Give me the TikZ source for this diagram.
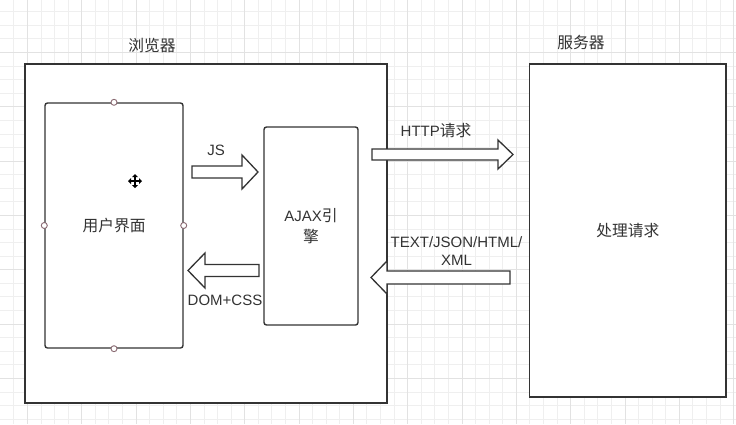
\documentclass[tikz,border=0pt]{standalone}
\usepackage{fontspec}
\setmainfont{Liberation Sans}
\newfontfamily\cjk{Noto Sans CJK SC}[Scale=1.05]
\definecolor{ink}{HTML}{333333}
\definecolor{gridminor}{HTML}{EFEFEF}
\definecolor{gridmajor}{HTML}{E2E2E2}
\definecolor{handle}{HTML}{8A6A72}
\tikzset{
  box/.style={draw=ink, line width=1.4pt, fill=white, inner sep=0pt, text=ink, align=center},
  rbox/.style={box, rounded corners=2.5pt},
  barrow/.style={draw=ink, line width=1.3pt, fill=white, line join=miter},
  lbl/.style={text=ink, inner sep=0pt, align=center},
  handlept/.style={draw=handle, fill=white, line width=0.9pt}
}
% block arrow: tip x, tail x, centre y, half shaft, half head, head base x
\newcommand\blockarr[6]{\draw[barrow] (#2,#3-#4) -- (#6,#3-#4) -- (#6,#3-#5) -- (#1,#3) -- (#6,#3+#5) -- (#6,#3+#4) -- (#2,#3+#4) -- cycle;}
\begin{document}
\begin{tikzpicture}[x=1pt,y=-1pt,font=\fontsize{15}{18}\selectfont]
\useasboundingbox (0,0) rectangle (736,424);
\fill[white] (0,0) rectangle (736,424);
% grid
\foreach \i in {0,...,53} \draw[gridminor, line width=0.8pt] (13.8+\i*13.58,0) -- (13.8+\i*13.58,424);
\foreach \i in {0,...,30} \draw[gridminor, line width=0.8pt] (0,11.7+\i*13.58) -- (736,11.7+\i*13.58);
\foreach \i in {0,...,13} \draw[gridmajor, line width=0.8pt] (27.4+\i*54.32,0) -- (27.4+\i*54.32,424);
\foreach \i in {0,...,7} \draw[gridmajor, line width=0.8pt] (0,-1.9+\i*54.32) -- (736,-1.9+\i*54.32);

% boxes
\node[box, minimum width=362pt, minimum height=339pt] (browser) at (206,233.5) {};
\node[box, minimum width=196.5pt, minimum height=333pt] (server) at (627.75,230.5) {\cjk 处理请求};
\node[rbox, minimum width=138pt, minimum height=245pt] (ui) at (114,225.5) {\cjk 用户界面};
\node[rbox, minimum width=94pt, minimum height=198pt, font=\fontsize{15}{21}\selectfont] (ajax) at (311,226) {AJAX{\cjk 引}\\{\cjk 擎}};

% titles
\node[lbl] (tbrowser) at (152,46) {\cjk 浏览器};
\node[lbl] (tserver) at (581,43) {\cjk 服务器};

% selection handles on ui
\foreach \a in {north,south,east,west} \draw[handlept] (ui.\a) circle (3pt);

% move cursor
\coordinate (cur) at (135,181);
\begin{scope}[shift={(cur)}, ink]
  \draw[line width=1.4pt, black] (-4.5,0) -- (4.5,0) (0,-4.5) -- (0,4.5);
  \fill[black] (-7,0) -- (-4,-3) -- (-4,3) -- cycle;
  \fill[black] (7,0) -- (4,-3) -- (4,3) -- cycle;
  \fill[black] (0,-7) -- (-3,-4) -- (3,-4) -- cycle;
  \fill[black] (0,7) -- (-3,4) -- (3,4) -- cycle;
\end{scope}

% block arrows
\blockarr{258}{192}{172}{6}{17}{242}
\blockarr{188}{259}{270.5}{6}{17.5}{205}
\blockarr{513}{372}{154.5}{5.5}{14.5}{498}
\blockarr{371}{510}{277.5}{6.5}{16.5}{387}

% arrow labels
\node[lbl] (ljs) at (216,150) {JS};
\node[lbl] (ldom) at (225,300.5) {DOM+CSS};
\node[lbl] (lhttp) at (436,131) {HTTP{\cjk 请求}};
\node[lbl, font=\fontsize{15}{18}\selectfont] (lresp) at (456.5,251) {TEXT/JSON/HTML/\\XML};
\end{tikzpicture}
\end{document}
